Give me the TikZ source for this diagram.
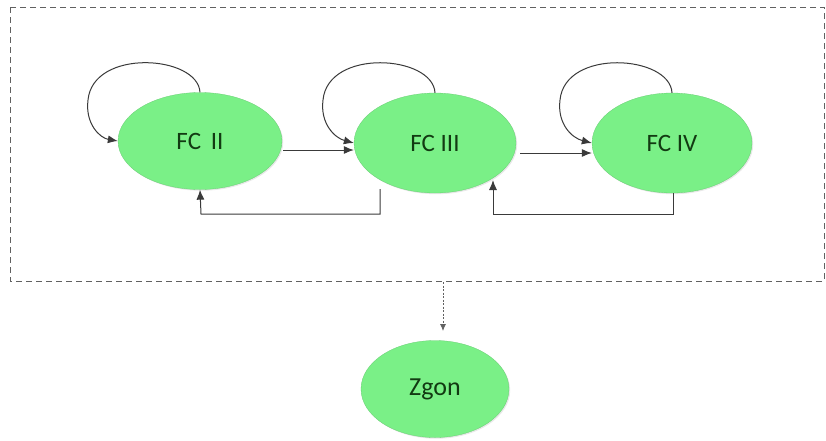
\documentclass[tikz,border=0pt]{standalone}
\usepackage{fontspec}
\setmainfont{Carlito}
\usetikzlibrary{arrows.meta,shapes.geometric,shadows}
\definecolor{stategreen}{HTML}{7AF087}
\definecolor{linegray}{HTML}{3A3A3A}
\definecolor{textgreen}{HTML}{123A12}
\tikzset{
  state/.style={ellipse, fill=stategreen, draw=stategreen!85!black, line width=0.3pt,
    minimum width=#1, inner sep=0pt, text=textgreen, font=\fontsize{25}{27}\selectfont,
    drop shadow={opacity=0.18, shadow xshift=1.2pt, shadow yshift=-1.2pt}},
  conn/.style={draw=linegray, line width=1pt, -{Latex[length=10pt,width=8pt]}},
  frame/.style={draw=linegray!80, line width=0.9pt, dash pattern=on 6pt off 4pt},
}
\begin{document}
\begin{tikzpicture}[x=1pt,y=-1pt]
\useasboundingbox (0,0) rectangle (826,440);
\draw[frame] (10,7) rectangle (824,281);
\node[state=164pt, minimum height=97pt] (II) at (200,141) {FC\, II};
\node[state=162pt, minimum height=100pt] (III) at (435,143) {FC III};
\node[state=160pt, minimum height=100pt] (IV) at (672,143) {FC IV};
\node[state=148pt, minimum height=97pt, font=\fontsize{26}{28}\selectfont] (Z) at (435,389) {Zgon};
% self loops
\draw[conn] (II.north) .. controls (198,55) and (93,48) .. (88,100) .. controls (85,124) and (100,138) .. (II.west);
\draw[conn] (III.north) .. controls (433,55) and (328,48) .. (323,100) .. controls (320,124) and (335,138) .. (III.west);
\draw[conn] (IV.north) .. controls (670,55) and (565,48) .. (560,100) .. controls (557,124) and (572,138) .. (IV.west);
% forward arrows
\coordinate (a1) at (283,150);
\coordinate (a2) at (520,153);
\draw[conn] (a1) -- (a1 -| III.west);
\draw[conn] (a2) -- (a2 -| IV.west);
% back arrows
\coordinate (b1) at (380,189);
\coordinate (c1) at (380,214);
\coordinate (d1) at (201,214);
\draw[conn] (b1) -- (c1) -- (d1) -- (II.south);
\coordinate (b2) at (673,193);
\coordinate (c2) at (673,214);
\coordinate (d2) at (493,214);
\coordinate (e2) at (493,180);
\draw[conn] (b2) -- (c2) -- (d2) -- (e2);
% dotted arrow
\coordinate (f) at (443,282);
\coordinate (g) at (443,331);
\draw[draw=linegray!80, line width=0.8pt, dash pattern=on 2pt off 1.5pt, -{Latex[length=7pt,width=6pt]}] (f) -- (g);
\end{tikzpicture}
\end{document}
